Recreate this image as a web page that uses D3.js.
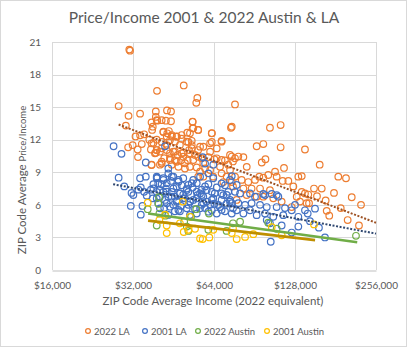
<html>
<head>
<meta charset="utf-8">
<title>Price/Income 2001 & 2022 Austin & LA</title>
<script src="https://cdn.jsdelivr.net/npm/d3@7"></script>
<style>
body { margin: 0; background: #fff; }
text { font-family: Lato, "Liberation Sans", sans-serif; fill: #595959; }
</style>
</head>
<body>
<div id="chart"></div>
<script>
// income in $ thousands (2022 equivalent), ZIP code average price / income
var la2022 = [
  [31.0,20.3],[31.2,20.2],[39.3,16.5],[28.3,15.1],[30.8,14.2],[34.0,14.4],[38.9,14.6],[38.9,14.1],[37.5,13.6],[39.4,13.75],
  [30.1,13.3],[32.7,12.3],[34.0,12.4],[35.2,12.5],[37.7,12.9],[36.8,12.0],[38.1,11.7],[31.9,11.5],[30.7,11.3],[34.5,11.6],
  [33.3,11.1],[37.3,11.1],[39.2,11.05],[33.4,10.4],[37.5,9.7],[38.9,10.8],[40.3,9.7],
  [49.4,17.0],[55.5,15.85],[55.0,15.4],[42.8,14.7],[44.3,14.6],[39.2,13.8],[40.9,13.8],[42.4,13.75],[44.3,13.7],[53.3,13.65],
  [53.3,13.05],[55.9,12.9],[74.0,13.1],[41.5,12.7],[43.5,12.8],[42.7,12.3],[44.6,12.3],[46.5,12.3],[48.5,12.1],[50.9,12.65],
  [62.8,12.6],[39.2,12.0],[40.9,11.8],[51.4,11.8],[52.9,11.9],[62.8,11.8],[68.3,11.9],[58.4,11.35],[55.9,11.05],[65.5,11.2],
  [40.3,10.9],[42.7,11.05],[45.2,10.9],[46.9,10.6],[49.2,10.8],[51.7,11.05],[54.4,10.6],[57.6,10.3],[61.0,10.4],[64.2,10.2],
  [41.8,10.3],[43.9,10.3],[45.8,10.1],[48.3,10.1],[51.1,10.1],[40.9,9.8],[44.6,9.7],[47.2,9.5],[49.9,9.35],[52.1,9.5],
  [55.2,9.45],[56.8,9.05],[59.3,9.35],[61.9,9.2],[67.4,9.5],[70.3,10.1],[72.3,9.7],[73.4,9.2],[68.3,8.9],[71.3,8.6],
  [63.6,8.6],[74.5,8.1],[55.9,8.6],[58.4,8.6],[69.3,8.1],
  [37.9,13.2],[41.5,12.74],[42.9,12.59],[44.6,12.43],[46.5,12.28],[48.5,12.43],[52.1,12.59],[53.6,13.05],[55.9,12.9],[62.8,12.59],
  [53.3,13.66],[37.5,11.67],[39.2,11.05],[38.6,10.75],[40.9,11.21],[42.7,11.51],[43.9,11.97],[45.8,11.82],[47.8,11.51],[50.7,11.82],
  [52.9,11.51],[52.9,11.21],[56.8,11.36],[61.9,11.67],[68.3,11.82],[43.9,10.75],[45.8,10.9],[48.5,10.75],[49.2,10.43],[52.1,10.75],
  [53.6,10.13],[55.9,10.43],[43.9,10.13],[46.5,9.97],[49.9,9.83],[40.9,9.97],[58.4,9.83],[65.5,10.29],[68.3,10.13],[73.4,10.6],
  [76.6,10.29],[37.5,9.67],[61.9,10.9],
  [76.6,15.25],[74.5,13.2],[103.3,13.1],[113.2,13.35],[92.2,11.4],[97.6,11.6],[113.2,11.3],[139.4,11.1],[74.5,10.45],[78.8,10.45],
  [82.3,10.4],[75.3,10.0],[84.7,9.5],[99.4,10.2],[96.3,9.9],[116.5,9.4],[131.7,8.6],[135.6,8.65],[76.6,8.6],[81.1,8.3],
  [85.8,8.1],[90.9,8.3],[94.3,8.6],[97.6,8.5],[101.8,8.75],[107.9,9.05],[109.4,8.6],[115.2,8.2],[120.9,8.2],[126.2,7.7],
  [135.6,7.2],[143.4,6.95],[75.3,7.7],[82.3,7.5],[88.3,7.5],[94.9,7.5],[103.3,7.35],[97.6,6.75],[106.3,6.6],[114.2,6.3],
  [129.9,6.75],[133.6,6.3],[141.4,6.15],[124.4,5.8],[92.2,6.75],[84.7,6.9],[77.7,6.45],
  [158.1,9.7],[185.4,8.6],[198.0,8.45],[150.6,7.5],[160.9,7.5],[178.7,7.1],[154.5,6.8],[208.0,6.7],[144.3,6.15],[166.4,6.4],
  [225.2,6.0],[189.3,5.7],[167.9,5.45],[171.6,5.0],[200.9,4.6],[221.3,4.1],[139.4,7.05]
];
var la2001 = [
  [27.1,11.4],[29.0,10.7],[35.7,9.9],[28.3,8.5],[34.0,8.45],[35.7,8.6],[39.4,8.5],[29.7,7.7],[34.2,7.6],[31.6,7.1],
  [32.1,6.9],[33.5,7.4],[35.2,7.2],[31.4,5.9],[34.7,5.9],[36.0,6.85],[37.9,6.6],[34.2,5.1],
  [42.1,11.4],[43.3,9.35],[58.1,10.4],[59.3,9.8],[74.5,8.65],[39.2,8.6],[41.5,8.45],[44.6,8.6],[39.7,8.0],[42.7,8.0],
  [46.5,7.7],[48.5,7.8],[52.9,8.0],[55.2,8.0],[59.3,7.7],[39.2,7.2],[41.5,7.2],[44.6,7.2],[47.8,7.05],[51.4,7.2],
  [56.8,7.05],[62.8,7.2],[68.3,7.05],[72.3,7.2],[40.3,6.75],[43.3,6.75],[45.8,6.75],[49.9,6.6],[53.6,6.45],[58.4,6.75],
  [63.6,6.6],[68.3,6.45],[73.4,6.45],[39.7,6.15],[42.7,6.15],[45.2,6.0],[47.8,5.4],[51.4,6.0],[57.6,6.0],[61.9,6.0],
  [67.4,5.8],[70.3,5.4],[45.8,5.4],[55.2,5.2],[59.3,5.7],[65.5,5.2],
  [40.9,7.9],[44.3,8.2],[47.2,8.3],[50.7,7.5],[53.3,7.6],[57.6,7.4],[61.0,7.9],[65.5,7.6],[70.3,7.8],[42.4,7.5],
  [46.5,6.4],[49.2,6.95],[52.1,6.3],[55.5,6.9],[60.0,6.3],[64.2,6.1],[69.3,6.9],[71.3,6.1],[41.8,5.7],[48.3,5.9],
  [54.4,5.6],[62.8,5.5],[38.1,7.9],[37.3,7.4],[63.6,9.7],
  [39.2,8.45],[41.5,8.29],[43.3,8.9],[45.2,8.59],[47.2,8.13],[49.2,8.45],[51.4,7.83],[53.6,8.29],[56.8,8.59],[61.0,8.9],
  [63.6,8.45],[68.3,7.98],[73.4,8.29],[77.7,7.83],[38.1,7.52],[40.3,7.37],[42.7,7.21],[45.2,7.52],[47.8,7.06],[50.7,7.37],
  [55.2,7.21],[57.6,6.91],[60.1,7.37],[64.4,7.06],[71.3,6.91],[39.2,6.6],[42.1,6.45],[44.6,6.75],[46.5,6.29],[49.2,6.6],
  [52.1,6.29],[55.2,6.6],[58.4,6.14],[62.8,6.45],[66.4,5.99],[73.4,6.29],[40.3,5.68],[43.9,5.83],[47.2,5.53],[50.7,5.68],
  [56.8,5.68],[61.0,5.37],[68.3,5.53],[75.3,5.68],[43.3,5.07],[52.1,5.07],
  [76.6,7.2],[80.0,7.05],[87.1,7.05],[90.9,6.75],[97.6,7.0],[104.9,7.0],[111.0,6.75],[74.5,6.15],[78.8,6.15],[83.5,6.0],
  [88.3,6.15],[94.9,6.0],[100.5,5.8],[109.4,5.8],[117.5,5.7],[124.4,5.5],[128.0,6.0],[139.4,5.5],[74.5,5.2],[82.3,5.2],
  [92.2,5.05],[99.0,5.2],[106.3,4.9],[115.8,5.05],[131.7,4.9],[103.3,4.3],[114.2,4.1],[124.4,3.45],[104.0,2.6],[77.7,5.5],
  [87.1,5.5],[109.4,6.9],[99.0,6.9],[131.7,4.0],[100.5,4.6],
  [151.9,5.65],[142.7,5.2],[145.5,4.5],[157.1,3.9],[165.4,3.0]
];
var austin2022 = [
  [40.0,6.7],[39.8,6.1],[36.3,5.6],[39.2,4.1],[40.1,5.2],[55.0,5.6],[61.3,5.2],[51.4,3.6],[61.0,3.7],[71.3,3.6],
  [75.3,4.3],[49.6,4.45],[42.2,5.0],[52.6,4.9],[50.7,4.0],[80.0,4.45],[101.8,4.35],[109.4,3.8],[215.7,3.15]
];
var austin2001 = [
  [36.3,6.2],[49.0,6.3],[40.1,4.6],[42.7,4.1],[42.7,3.4],[47.8,4.3],[49.4,3.5],[52.1,4.9],[54.4,3.8],[58.1,2.85],
  [61.5,3.0],[63.6,3.7],[77.7,2.85],[75.3,3.85],[42.1,5.1],[51.4,3.7],[74.5,3.4],[83.5,3.05],[89.6,3.3],[104.9,3.95],
  [114.2,3.2],[150.6,4.2],[56.8,2.9]
];
// trendline endpoints
var trendLa2022 = [[28.3,13.4],[256,4.35]];
var trendLa2001 = [[27.0,7.9],[256,3.35]];
var trendAustin2022 = [[36.4,5.2],[218,2.55]];
var trendAustin2001 = [[36.4,4.55],[152,2.75]];

var seriesNames = ["2022 LA", "2001 LA", "2022 Austin", "2001 Austin"];
var xTicks = [16, 32, 64, 128, 256];
var yTicks = [0, 3, 6, 9, 12, 15, 18, 21];

var W = 407, H = 349;
var m = {left: 52, right: 31, top: 42, bottom: 79};

var series = [
  {name: seriesNames[0], pts: la2022, color: "#ED7D31", trend: trendLa2022, tcolor: "#9E5224", dash: "2 1.6", tw: 2},
  {name: seriesNames[1], pts: la2001, color: "#4472C4", trend: trendLa2001, tcolor: "#2F4770", dash: "2 1.6", tw: 2},
  {name: seriesNames[2], pts: austin2022, color: "#70AD47", trend: trendAustin2022, tcolor: "#70AD47", dash: null, tw: 2.6},
  {name: seriesNames[3], pts: austin2001, color: "#FFC000", trend: trendAustin2001, tcolor: "#BF8F00", dash: null, tw: 2.6}
];

var svg = d3.select("#chart").append("svg")
  .attr("width", W).attr("height", H);

svg.append("rect").attr("x", 0.5).attr("y", 0.5).attr("width", W - 1).attr("height", 346)
  .attr("fill", "#fff").attr("stroke", "#d9d9d9");

var x = d3.scaleLog().base(2).domain([16, 256]).range([m.left, W - m.right]);
var y = d3.scaleLinear().domain([0, 21]).range([H - m.bottom, m.top]);

// grid
svg.append("g").selectAll("line").data(yTicks.slice(1)).enter().append("line")
  .attr("x1", m.left).attr("x2", W - m.right)
  .attr("y1", function(d) { return Math.round(y(d)) + 0.5; })
  .attr("y2", function(d) { return Math.round(y(d)) + 0.5; })
  .attr("stroke", "#d9d9d9");
svg.append("g").selectAll("line").data(xTicks).enter().append("line")
  .attr("y1", m.top).attr("y2", H - m.bottom)
  .attr("x1", function(d) { return Math.round(x(d)) + 0.5; })
  .attr("x2", function(d) { return Math.round(x(d)) + 0.5; })
  .attr("stroke", "#d9d9d9");

// axes
var xAxis = d3.axisBottom(x).tickValues(xTicks).tickSize(0).tickPadding(11)
  .tickFormat(function(d) { return "$" + d3.format(",")(d * 1000); });
var gx = svg.append("g").attr("transform", "translate(0," + (Math.round(y(0)) + 0.5) + ")").call(xAxis);
gx.select(".domain").attr("stroke", "#bfbfbf");
gx.selectAll("text").attr("font-size", 10).attr("fill", "#595959").style("font-family", "Lato, sans-serif");

var yAxis = d3.axisLeft(y).tickValues(yTicks).tickSize(0).tickPadding(11);
var gy = svg.append("g").attr("transform", "translate(" + m.left + ",0)").call(yAxis);
gy.select(".domain").remove();
gy.selectAll("text").attr("font-size", 10).attr("fill", "#595959").style("font-family", "Lato, sans-serif");

// points
series.forEach(function(s) {
  svg.append("g").selectAll("circle").data(s.pts).enter().append("circle")
    .attr("cx", function(d) { return x(d[0]); })
    .attr("cy", function(d) { return y(d[1]); })
    .attr("r", 3.3)
    .attr("fill", "none")
    .attr("stroke", s.color)
    .attr("stroke-width", 1.2);
});

// trendlines
var line = d3.line().x(function(d) { return x(d[0]); }).y(function(d) { return y(d[1]); });
series.forEach(function(s) {
  svg.append("path").datum(s.trend).attr("d", line)
    .attr("fill", "none").attr("stroke", s.tcolor).attr("stroke-width", s.tw)
    .attr("stroke-dasharray", s.dash);
});

// titles
svg.append("text").attr("x", 204).attr("y", 23).attr("text-anchor", "middle")
  .attr("font-size", 15.5).text("Price/Income 2001 & 2022 Austin & LA");
svg.append("text").attr("x", 213).attr("y", 305).attr("text-anchor", "middle")
  .attr("font-size", 11.5).text("ZIP Code Average Income (2022 equivalent)");
var yt = svg.append("text").attr("transform", "translate(26,180) rotate(-90)").attr("text-anchor", "middle");
yt.append("tspan").attr("font-size", 11.5).text("ZIP Code Average ");
yt.append("tspan").attr("font-size", 9.5).text("Price/Income");

// legend
var legX = [88, 145, 198, 267];
var leg = svg.append("g").selectAll("g").data(series).enter().append("g")
  .attr("transform", function(d, i) { return "translate(" + legX[i] + ",331)"; });
leg.append("circle").attr("r", 2.4).attr("fill", "none")
  .attr("stroke", function(d) { return d.color; }).attr("stroke-width", 1.2);
leg.append("text").attr("x", 6).attr("y", 3.5).attr("font-size", 9.5).text(function(d) { return d.name; });
</script>
</body>
</html>
